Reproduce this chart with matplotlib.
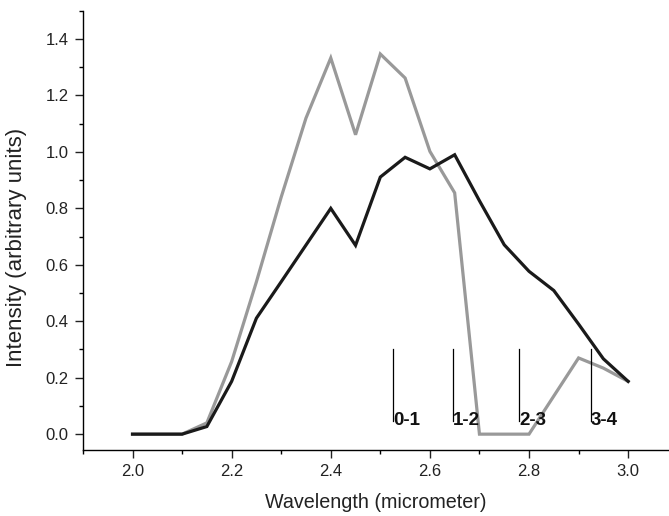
import numpy as np
from matplotlib import pyplot as plt
from matplotlib.ticker import MultipleLocator

# Spectra
wavelength = [2.0, 2.05, 2.1, 2.15, 2.2, 2.25, 2.3, 2.35, 2.4, 2.45, 2.5,
              2.55, 2.6, 2.65, 2.7, 2.75, 2.8, 2.85, 2.9, 2.95, 3.0]
gray_vals = [0.0, 0.0, 0.0, 0.04, 0.257, 0.54, 0.84, 1.12, 1.333, 1.061, 1.347,
             1.262, 1.002, 0.855, 0.0, 0.0, 0.0, 0.135, 0.27, 0.234, 0.187]
black_vals = [0.0, 0.0, 0.0, 0.027, 0.187, 0.411, 0.54, 0.67, 0.80, 0.669, 0.911,
              0.981, 0.94, 0.99, 0.827, 0.671, 0.577, 0.509, 0.39, 0.267, 0.187]

# Band markers
band_x = [2.526, 2.647, 2.78, 2.925]
band_labels = ['0-1', '1-2', '2-3', '3-4']
band_top = 0.30
band_bottom = 0.045

plt.rcParams['font.family'] = ['Liberation Sans', 'DejaVu Sans']

fig = plt.figure(figsize=(6.69, 5.16), dpi=100)
ax = fig.add_axes([0.124, 0.128, 0.889, 0.851])

ax.plot(wavelength, gray_vals, color='#999999', linewidth=2.3, solid_joinstyle='miter')
ax.plot(wavelength, black_vals, color='#1a1a1a', linewidth=2.3, solid_joinstyle='miter')

for bx, lab in zip(band_x, band_labels):
    ax.plot([bx, bx], [band_bottom, band_top], color='black', linewidth=0.9)
    ax.text(bx, 0.05, lab, fontsize=13.5, fontweight='bold', ha='left', va='center',
            color='#111111')

ax.set_xlim(1.9, 3.1)
ax.set_ylim(-0.056, 1.5)
ax.xaxis.set_major_locator(MultipleLocator(0.2))
ax.xaxis.set_minor_locator(MultipleLocator(0.1))
ax.yaxis.set_major_locator(MultipleLocator(0.2))
ax.yaxis.set_minor_locator(MultipleLocator(0.1))
ax.xaxis.set_major_formatter(plt.FormatStrFormatter('%.1f'))
ax.yaxis.set_major_formatter(plt.FormatStrFormatter('%.1f'))

ax.spines['top'].set_visible(False)
ax.spines['right'].set_visible(False)
ax.spines['left'].set_linewidth(1.0)
ax.spines['bottom'].set_linewidth(1.0)
ax.tick_params(which='major', direction='out', length=5.8, width=1.0,
               labelsize=12, colors='#222222', pad=4.5)
ax.tick_params(which='minor', direction='out', length=3, width=1.0)

# axis titles placed where they sit in the reference
fig.text(376 / 669, 1 - 502 / 516, 'Wavelength (micrometer)', fontsize=14.2,
         color='#222222', ha='center', va='center')
fig.text(16.5 / 669, 1 - 247 / 516, 'Intensity (arbitrary units)', fontsize=16,
         color='#222222', ha='center', va='center', rotation=90)

fig.savefig('out.png', dpi=100)
